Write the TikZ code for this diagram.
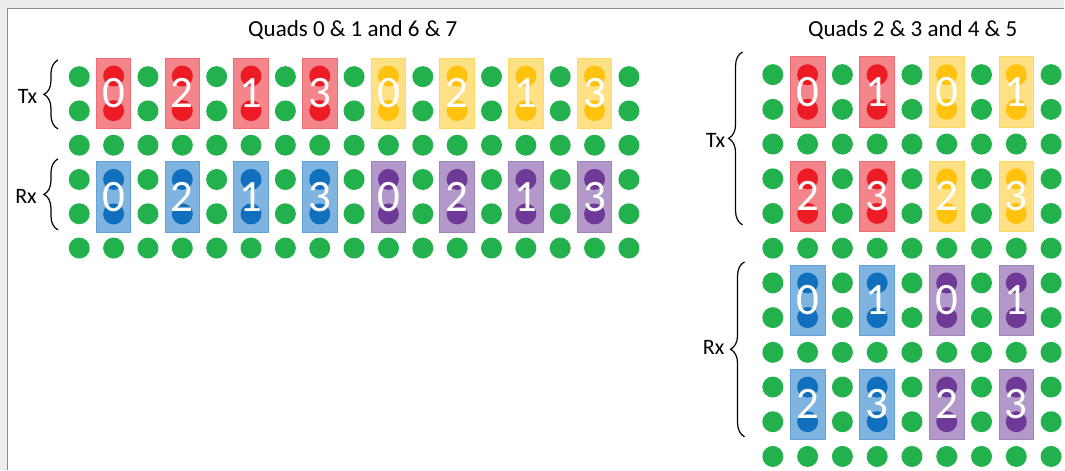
\documentclass[tikz,border=0pt]{standalone}
\usepackage{fontspec}
\setmainfont{Carlito}
\usetikzlibrary{decorations.pathreplacing}

\definecolor{pingreen}{HTML}{22B14C}
\definecolor{redfill}{HTML}{F4858A}
\definecolor{rededge}{HTML}{F06C72}
\definecolor{redpin}{HTML}{ED1C24}
\definecolor{yellowfill}{HTML}{FFE085}
\definecolor{yellowedge}{HTML}{FFD862}
\definecolor{yellowpin}{HTML}{FFC20E}
\definecolor{bluefill}{HTML}{7FB4E0}
\definecolor{blueedge}{HTML}{62A2D8}
\definecolor{bluepin}{HTML}{1170BD}
\definecolor{purplefill}{HTML}{B399C9}
\definecolor{purpleedge}{HTML}{A084BD}
\definecolor{purplepin}{HTML}{6F3997}

\tikzset{
  gnd/.style={fill=pingreen},
  pinbox/.style n args={3}{draw=#2, fill=#1, line width=0.8pt, inner sep=0pt,
    minimum width=34.6pt, minimum height=70.5pt, text=white,
    font=\fontsize{45}{45}\selectfont,
    path picture={\fill[#3] ([yshift=17.3pt]path picture bounding box.center) circle (10.5pt)
      ([yshift=-17.3pt]path picture bounding box.center) circle (10.5pt);}},
  redbox/.style={pinbox={redfill}{rededge}{redpin}},
  yellowbox/.style={pinbox={yellowfill}{yellowedge}{yellowpin}},
  bluebox/.style={pinbox={bluefill}{blueedge}{bluepin}},
  purplebox/.style={pinbox={purplefill}{purpleedge}{purplepin}},
  boardtitle/.style={font=\fontsize{23}{23}\selectfont},
  sidelabel/.style={font=\fontsize{22}{22}\selectfont},
  sidebrace/.style={decorate, decoration={brace, amplitude=14pt}, line width=1.2pt},
}

\begin{document}
\begin{tikzpicture}[x=1pt, y=-1pt]
% Window frame
\fill[black!7] (0,0) rectangle (1065,470);
\fill[white] (7.5,8.5) rectangle (1065,470);
\draw[black!45, line width=1.3pt] (7.5,470) -- (7.5,8.5) -- (1065,8.5);
\useasboundingbox (0,0) rectangle (1065,470);

% Left board: quads 0 & 1 and 6 & 7
\node[boardtitle] (titleL) at (353,30) {Quads 0 \& 1 and 6 \& 7};
\foreach \r in {2,5}
  \foreach \c in {0,...,16}
    \fill[gnd] ({79.3+34.375*\c},{76.7+34.3*\r}) circle (10.5pt);
\foreach \r in {0,1,3,4}
  \foreach \c in {0,2,...,16}
    \fill[gnd] ({79.3+34.375*\c},{76.7+34.3*\r}) circle (10.5pt);
\foreach \lab [count=\i] in {0,2,1,3} {
  \node[redbox] (txL\i) at ({79.3+34.375*(2*\i-1)},93.4) {\lab};
  \node[yellowbox] (txR\i) at ({79.3+34.375*(2*\i+7)},93.4) {\lab};
  \node[bluebox] (rxL\i) at ({79.3+34.375*(2*\i-1)},196.8) {\lab};
  \node[purplebox] (rxR\i) at ({79.3+34.375*(2*\i+7)},196.8) {\lab};
}
\node[sidelabel] (txLab) at (27.5,97) {Tx};
\node[sidelabel] (rxLab) at (26,196.5) {Rx};
\draw[sidebrace] (58,129) -- (58,60);
\draw[sidebrace] (58,230) -- (58,159);

% Right board: quads 2 & 3 and 4 & 5
\node[boardtitle] (titleR) at (913.3,30.5) {Quads 2 \& 3 and 4 \& 5};
\foreach \r in {2,5,8,11}
  \foreach \c in {0,...,8}
    \fill[gnd] ({773.3+34.8*\c},{74.7+34.73*\r}) circle (10.5pt);
\foreach \r in {0,1,3,4,6,7,9,10}
  \foreach \c in {0,2,...,8}
    \fill[gnd] ({773.3+34.8*\c},{74.7+34.73*\r}) circle (10.5pt);
\foreach \a/\b/\r [count=\i] in {0/1/0.5, 2/3/3.5} {
  \node[redbox] (txA\i) at (808.1,{74.7+34.73*\r}) {\a};
  \node[redbox] (txB\i) at (877.7,{74.7+34.73*\r}) {\b};
  \node[yellowbox] (txC\i) at (947.3,{74.7+34.73*\r}) {\a};
  \node[yellowbox] (txD\i) at (1016.9,{74.7+34.73*\r}) {\b};
  \node[bluebox] (rxA\i) at (808.1,{74.7+34.73*(\r+6)}) {\a};
  \node[bluebox] (rxB\i) at (877.7,{74.7+34.73*(\r+6)}) {\b};
  \node[purplebox] (rxC\i) at (947.3,{74.7+34.73*(\r+6)}) {\a};
  \node[purplebox] (rxD\i) at (1016.9,{74.7+34.73*(\r+6)}) {\b};
}
\node[sidelabel] (txLabR) at (716,140.5) {Tx};
\node[sidelabel] (rxLabR) at (714,348) {Rx};
\draw[sidebrace] (743,225) -- (743,52);
\draw[sidebrace] (745,437) -- (745,262);
\end{tikzpicture}
\end{document}
